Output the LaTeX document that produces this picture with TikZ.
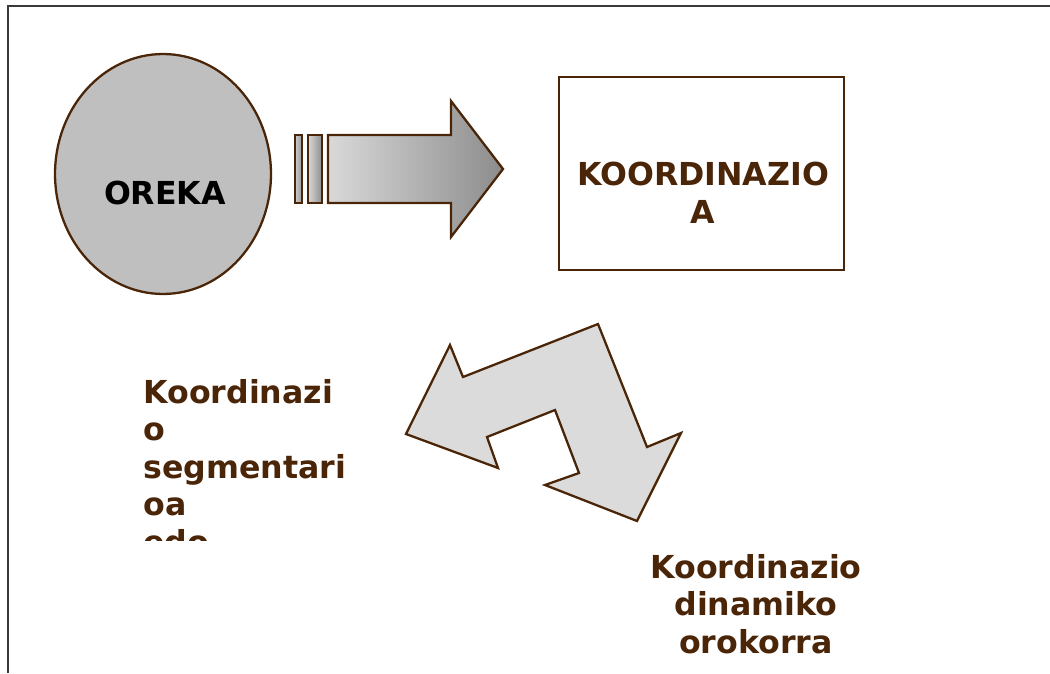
\documentclass[tikz,border=0pt]{standalone}
\usepackage{fontspec}
\setmainfont{DejaVu Sans}
\usetikzlibrary{positioning}
\usetikzlibrary{shapes.geometric}
\definecolor{brn}{HTML}{4A2508}
\definecolor{frm}{HTML}{3A3A3A}
\tikzset{outl/.style={draw=brn, line width=1.3pt}}
\tikzset{txt/.style={text=brn, inner sep=0pt, font=\bfseries\fontsize{18}{21.3}\selectfont}}

\begin{document}
\begin{tikzpicture}[x=0.02cm, y=-0.02cm]
        \useasboundingbox (0,0) rectangle (1050,673);
        \draw[frm, line width=1.5pt] (8,673) -- (8,6) -- (1050,6);

        \node[outl, ellipse, fill=black!25, minimum width=4.32cm, minimum height=4.8cm] (oreka) at (163,174) {};
        \node[txt, text=black, anchor=base] (orekalbl) at (165,204) {OREKA};

        \node[outl, minimum width=5.7cm, minimum height=3.86cm] (koord) at (701.5,173.5) {};
        \node[txt, align=center, anchor=north] (koordlbl) at (703,162) {KOORDINAZIO\\A};

        % gradient arrow with two bars
        \draw[outl, left color=black!20, right color=black!40] (295,135) rectangle (302,203);
        \draw[outl, left color=black!15, right color=black!45] (308,135) rectangle (322,203);
        \draw[outl, left color=black!15, right color=black!45]
            (328,135) -- (451,135) -- (451,101) -- (503,169) -- (451,237) -- (451,203) -- (328,203) -- cycle;

        % bent double arrow
        \draw[outl, fill=black!14]
            (406,434) -- (450,345) -- (463,377) -- (598,324) -- (647,447) -- (681,433)
            -- (637,521) -- (545,485) -- (579,473) -- (555,410) -- (487,437) -- (498,468) -- cycle;

        \begin{scope}
            \clip (0,0) rectangle (1050,540);
            \node[txt, align=left, anchor=north west] (segm) at (143,379) {Koordinazi\\o\\segmentari\\oa\\edo};
        \end{scope}

        \node[txt, align=center, anchor=north] (dinam) at (756,554) {Koordinazio\\dinamiko\\orokorra};
\end{tikzpicture}
\end{document}
